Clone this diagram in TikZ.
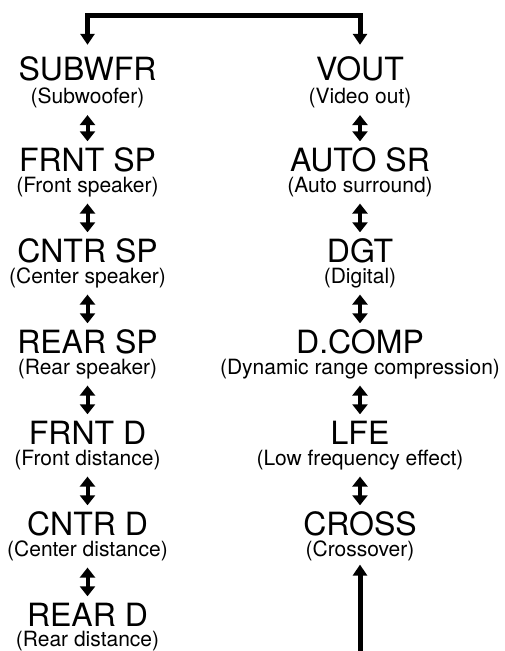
\documentclass[tikz,border=0pt]{standalone}
\usepackage{fontspec}
\setmainfont{TeX Gyre Heros}
\usetikzlibrary{arrows.meta}

\begin{document}
\begin{tikzpicture}[
    x=1pt, y=1pt,
    node distance=91pt,
    modename/.style={inner sep=0pt, text height=23pt, text depth=0pt, font=\fontsize{32}{32}\selectfont},
    modenote/.style={inner sep=0pt, text height=15.4pt, text depth=4.4pt, font=\fontsize{21}{21}\selectfont, node distance=26.5pt},
    bidir/.style={<->, >={Triangle[width=15pt,length=10pt]}, line width=4pt, shorten <=7pt, shorten >=7pt},
    loopback/.style={>={Triangle[width=14pt,length=11pt]}, line width=5pt}
]
\useasboundingbox (0,0) rectangle (504,-651);

\node[modename] (subwfr) at (87.5,-69) {SUBWFR};
\node[modenote, below of=subwfr, yshift=-2.5pt] (subwfrtxt) {(Subwoofer)};
\node[modename, below of=subwfr] (frntsp) {FRNT SP};
\node[modenote, below of=frntsp] (frntsptxt) {(Front speaker)};
\node[modename, below of=frntsp] (cntrsp) {CNTR SP};
\node[modenote, below of=cntrsp] (cntrsptxt) {(Center speaker)};
\node[modename, below of=cntrsp] (rearsp) {REAR SP};
\node[modenote, below of=rearsp] (rearsptxt) {(Rear speaker)};
\node[modename, below of=rearsp] (frntd) {FRNT D};
\node[modenote, below of=frntd] (frntdtxt) {(Front distance)};
\node[modename, below of=frntd] (cntrd) {CNTR D};
\node[modenote, below of=cntrd] (cntrdtxt) {(Center distance)};
\node[modename, below of=cntrd] (reard) {REAR D};
\node[modenote, below of=reard, yshift=0.5pt] (reardtxt) {(Rear distance)};

\node[modename] (vout) at (360,-69) {VOUT};
\node[modenote, below of=vout, yshift=-2.5pt] (vouttxt) {(Video out)};
\node[modename, below of=vout] (autosr) {AUTO SR};
\node[modenote, below of=autosr] (autosrtxt) {(Auto surround)};
\node[modename, below of=autosr] (dgt) {DGT};
\node[modenote, below of=dgt] (dgttxt) {(Digital)};
\node[modename, below of=dgt] (dcomp) {D.COMP};
\node[modenote, below of=dcomp] (dcomptxt) {(Dynamic range compression)};
\node[modename, below of=dcomp] (lfe) {LFE};
\node[modenote, below of=lfe] (lfetxt) {(Low frequency effect)};
\node[modename, below of=lfe] (cross) {CROSS};
\node[modenote, below of=cross] (crosstxt) {(Crossover)};

\coordinate (bar) at (0,-15.5);
\coordinate (feed) at (360,-651);

\draw[loopback, <->, shorten <=12.5pt, shorten >=12.5pt] (subwfr.north) -- (subwfr.north |- bar) -- (vout.north |- bar) -- (vout.north);
\draw[bidir] (subwfrtxt) -- (frntsp);
\draw[bidir] (frntsptxt) -- (cntrsp);
\draw[bidir] (cntrsptxt) -- (rearsp);
\draw[bidir] (rearsptxt) -- (frntd);
\draw[bidir] (frntdtxt) -- (cntrd);
\draw[bidir] (cntrdtxt) -- (reard);
\draw[bidir] (vouttxt) -- (autosr);
\draw[bidir] (autosrtxt) -- (dgt);
\draw[bidir] (dgttxt) -- (dcomp);
\draw[bidir] (dcomptxt) -- (lfe);
\draw[bidir] (lfetxt) -- (cross);
\draw[loopback, ->, shorten >=4pt] (feed) -- (crosstxt);

\end{tikzpicture}
\end{document}
